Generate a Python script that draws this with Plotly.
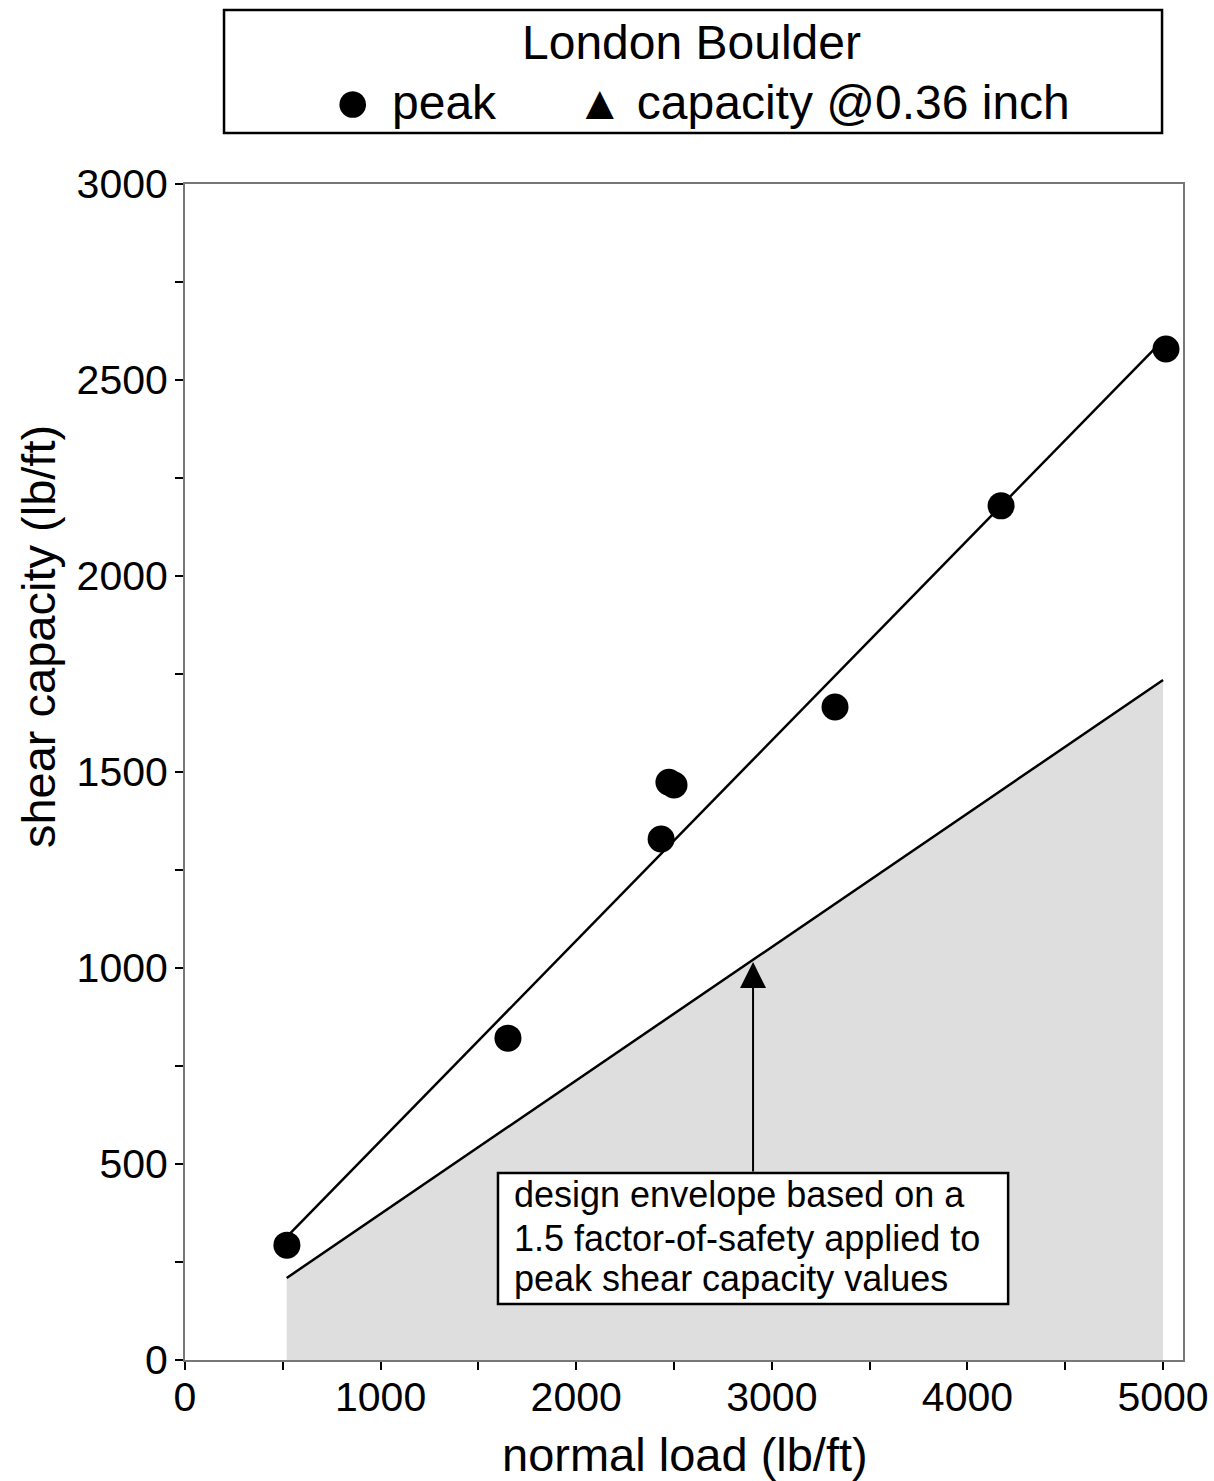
import plotly.graph_objects as go

# ---- data ----
normal_load = [521, 1651, 2434, 2474, 2500, 3323, 4172, 5015]
peak_shear = [293, 821, 1329, 1474, 1467, 1666, 2179, 2579]

fit_x = [520, 5000]
fit_y = [314, 2602]
safety_factor = 1.5
design_y = [v / safety_factor for v in fit_y]

x_ticks = [0, 1000, 2000, 3000, 4000, 5000]
y_ticks = [0, 500, 1000, 1500, 2000, 2500, 3000]

note_lines = ["design envelope based on a",
              "1.5 factor-of-safety applied to",
              "peak shear capacity values"]

FONT = "Liberation Sans, Arial, Helvetica, sans-serif"

fig = go.Figure()

# design envelope (shaded)
fig.add_trace(go.Scatter(
    x=fit_x, y=design_y, mode="lines", fill="tozeroy",
    fillcolor="#dedede", line=dict(color="black", width=2.5),
    showlegend=False, hoverinfo="skip"))

# fit line through peaks
fig.add_trace(go.Scatter(
    x=fit_x, y=fit_y, mode="lines",
    line=dict(color="black", width=2.5),
    showlegend=False, hoverinfo="skip"))

# peak points
fig.add_trace(go.Scatter(
    x=normal_load, y=peak_shear, mode="markers",
    marker=dict(color="black", size=27, symbol="circle"),
    showlegend=False, cliponaxis=False))

axis_common = dict(
    showgrid=False, zeroline=False, showline=True, linecolor="#777777",
    linewidth=2, mirror=True, ticks="outside", ticklen=8, tickwidth=1.5,
    tickcolor="black", tickfont=dict(family=FONT, size=41, color="black"),
    automargin=False,
)

fig.update_xaxes(range=[0, 5102], tickvals=x_ticks, ticklabelstandoff=-8,
                 minor=dict(dtick=500, ticks="outside", ticklen=8,
                            tickwidth=1.5, tickcolor="black"),
                 **axis_common)
fig.update_yaxes(range=[0, 3000], tickvals=y_ticks, ticklabelstandoff=-1,
                 minor=dict(dtick=250, ticks="outside", ticklen=8,
                            tickwidth=1.5, tickcolor="black"),
                 **axis_common)

annotations = []
# axis titles
annotations.append(dict(text="normal load (lb/ft)", xref="paper", yref="paper",
                        x=0.501, y=-0.0805, xanchor="center", yanchor="middle",
                        showarrow=False, font=dict(family=FONT, size=47, color="black")))
annotations.append(dict(text="shear capacity (lb/ft)", xref="paper", yref="paper",
                        x=-0.1473, y=0.6156, xanchor="center", yanchor="middle",
                        textangle=-90, showarrow=False,
                        font=dict(family=FONT, size=47, color="black")))
# legend box contents
annotations.append(dict(text="London Boulder", xref="paper", yref="paper",
                        x=0.508, y=1.1207, xanchor="center", yanchor="middle",
                        showarrow=False, font=dict(family=FONT, size=48, color="black")))
annotations.append(dict(text="●", xref="paper", yref="paper",
                        x=(352 - 185) / 998, y=(1360 - 100) / 1176,
                        xanchor="center", yanchor="middle",
                        showarrow=False, font=dict(family=FONT, size=62, color="black")))
annotations.append(dict(text="peak", xref="paper", yref="paper",
                        x=(390 - 185) / 998, y=1.0697, xanchor="left", yanchor="middle",
                        showarrow=False, font=dict(family=FONT, size=48, color="black")))
annotations.append(dict(text="▲ capacity @0.36 inch", xref="paper", yref="paper",
                        x=(574 - 185) / 998, y=1.0697, xanchor="left", yanchor="middle",
                        showarrow=False, font=dict(family=FONT, size=48, color="black")))
# note text
for txt, yy in zip(note_lines, [421, 311, 209]):
    annotations.append(dict(text=txt, xref="x", yref="y", x=1672, y=yy,
                            xanchor="left", yanchor="middle", showarrow=False,
                            font=dict(family=FONT, size=36, color="black")))
# arrow
annotations.append(dict(text="", xref="x", yref="y", x=2904, y=1015,
                        axref="x", ayref="y", ax=2904, ay=477,
                        showarrow=True, arrowhead=2, arrowsize=2.6,
                        arrowwidth=2, arrowcolor="black"))

shapes = [
    dict(type="rect", xref="paper", yref="paper",
         x0=0.0391, x1=0.979, y0=1.0434, y1=1.148,
         line=dict(color="black", width=2.5), fillcolor="white", layer="above"),
    dict(type="rect", xref="x", yref="y", x0=1600, x1=4208, y0=143, y1=477,
         line=dict(color="black", width=2.5), fillcolor="white", layer="above"),
]

fig.update_layout(
    width=1214, height=1481,
    margin=dict(l=185, r=31, t=184, b=121, autoexpand=False),
    paper_bgcolor="white", plot_bgcolor="white",
    showlegend=False,
    annotations=annotations, shapes=shapes,
    font=dict(family=FONT, color="black"),
)

fig.write_html("out.html", config={"displayModeBar": False},
               post_script="document.body.style.margin='0';document.body.style.padding='0';")
